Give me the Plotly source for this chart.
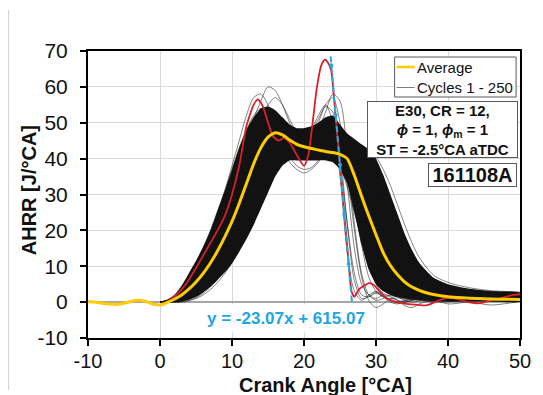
import plotly.graph_objects as go

# ---------------- data ----------------
# crank-angle grid used by the individual cycles and the dense band
cycle_ca = [0, 1, 2, 3, 4, 5, 6, 7, 8, 9, 10, 11, 12, 13, 14, 15, 16, 17, 18, 19,
            20, 21, 22, 23, 24, 25, 26, 27, 28, 29, 30, 31, 32, 33, 34, 35, 36,
            38, 40, 43, 46, 50]

# dense core of the 250 cycles (upper / lower edge)
band_hi = [0.2, 0.6, 1.8, 4.5, 8, 11.5, 15.5, 20, 25.5, 31, 37, 43, 48, 51.5, 54, 54.5,
           53.5, 51.5, 49.5, 48.5, 48.5, 49, 50, 51.5, 52, 49.5, 47, 45.5, 44, 42.5,
           40, 35.5, 30, 24.5, 19, 14.5, 11, 6.8, 5, 3.7, 3, 2.6]
band_lo = [0, 0, 0, 0.2, 0.6, 1.4, 2.7, 4.3, 6.2, 8.3, 10.8, 14, 17.5, 21.5, 26, 30.5, 35,
           38, 39.5, 39.5, 39.5, 39.5, 39.5, 39.5, 39, 37, 33, 25, 16, 9, 5, 3, 2,
           1.4, 1, 0.7, 0.5, 0.3, 0.2, 0.2, 0.2, 0.2]

# individual cycles spreading around the core
cyc_a = [0, 0.5, 1.5, 3.5, 6.5, 10, 14, 19, 25, 31, 38, 45, 52, 57, 58, 55, 51, 48, 46, 45,
         45, 46, 47, 48, 46, 38, 22, 8, 2, 1.5, 2.5, 1.5, 0.5, 0.2, 0.5, 0.8, 0.5, 0.2, 0.6, 0.3, 0.5, 0.8]
cyc_b = [0, 0, 0, 0.3, 1, 2, 3.5, 5.5, 8, 11, 14, 18, 22, 27, 31, 35, 38, 40, 41, 41,
         40.5, 40, 40, 40, 40.5, 41, 41, 40, 37, 33, 28, 22, 17, 12, 9, 7, 5.5, 4, 3.2, 2.6, 2.2, 2]
cyc_c = [0, 0.3, 1, 2.5, 4.5, 7.5, 11, 15, 20, 25, 31, 37, 42, 46, 48, 48, 46, 44, 42, 41,
         42, 45, 50, 55, 57, 50, 33, 15, 5, 2, 1, 2, 1.5, 0.5, 0, 0.5, 1, 0.5, 0.3, 0.8, 0.4, 0.6]
cyc_d = [0, 0.3, 1.2, 3, 5.5, 8.5, 12, 16.5, 21.5, 27, 33, 39, 45, 51, 56, 60, 59, 55, 50, 46,
         44, 43, 42.5, 42, 41, 38, 32, 25, 18, 12, 7, 4, 2.5, 1.5, 1, 1.2, 0.8, 0.5, 1, 0.6, 0.8, 1]
cyc_e = [0, 0.2, 0.8, 2, 4, 6.5, 9.5, 13, 17.5, 22, 27, 32, 37, 41, 44, 46, 46.5, 45.5, 44, 43,
         42.5, 42, 42, 42, 42, 42, 42, 41.5, 40.5, 38, 34, 29, 23, 17, 12, 8.5, 6.5, 4.5, 3.5, 2.8, 2.3, 2]
cyc_f = [0, 0, 0, 0, 0.4, 1, 2, 3.5, 5.5, 8, 11, 14.5, 18.5, 23, 27.5, 32, 36, 39, 41, 42,
         42, 41.5, 41, 41, 41.5, 42, 42.5, 42, 40.5, 37.5, 33.5, 28.5, 23.5, 18.5, 14, 10.5, 8, 5, 3.8, 3, 2.5, 2.2]
cyc_g = [0, 0.5, 1.8, 3.8, 6.5, 9.5, 13, 17, 22, 27, 33, 39, 45, 50, 53, 53, 51, 49, 47, 46,
         46, 48, 52, 55, 50, 35, 14, 3, 0.5, 2, 3, 1.5, 0, -0.5, 0.2, 1, 0.8, 0, 0.5, 1, 0.2, 0.5]
cyc_h = [0, 0.3, 1, 2.2, 4.2, 7, 10, 14, 18.5, 23.5, 29, 35, 40, 45, 49, 51, 50, 48, 45, 43,
         43.5, 45, 46, 45, 44, 43, 41, 36, 28, 19, 11, 6, 3.5, 2.5, 2, 1.5, 1.2, 1.3, 1, 0.8, 1, 1.2]
cyc_i = [0, 0.6, 2, 4.5, 7.5, 11, 15, 20, 25.5, 31, 37, 43, 48, 52, 54, 52, 48, 43, 39, 37,
         36, 37, 39, 42, 44, 43, 38, 28, 16, 7, 3, 1.5, 1, 1.2, 0.8, 0.5, 0.6, 0.8, 0.4, 0.5, 0.7, 0.5]
cyc_j = [0, 0.1, 0.5, 1.5, 3, 5, 7.5, 10.5, 14, 18, 22.5, 27.5, 32.5, 37.5, 42, 45.5, 47.5, 48, 47.5, 47,
         46.5, 46, 46, 46, 46.5, 46.5, 45.5, 43.5, 40, 35, 29, 22.5, 16.5, 11.5, 8, 5.5, 4, 2.8, 2.2, 1.8, 1.6, 1.5]
cyc_k = [0, 0.4, 1.4, 3.2, 5.8, 9, 12.5, 16.5, 21, 26, 31.5, 37, 42.5, 47, 50, 51, 50, 48, 46, 44.5,
         44, 45, 48, 53, 58, 56, 42, 22, 8, 2, 0.5, 1, 2, 1.5, 0.5, 0, 0.3, 0.6, 0.2, 0.4, 0.3, 0.6]
cyc_l = [0, 0, 0.2, 0.8, 2, 3.5, 5.5, 8, 11, 14.5, 18.5, 23, 27.5, 32, 36, 39.5, 42, 43.5, 44, 44,
         43.5, 43.5, 43.5, 44, 44.5, 45, 45, 44.5, 43, 40.5, 37, 32.5, 27, 21.5, 16.5, 12.5, 9.5, 6, 4.5, 3.5, 3, 2.6]
cyc_m = [0, 0.2, 0.9, 2.2, 4.2, 7, 10.5, 14.5, 19, 24, 29.5, 35, 40.5, 46, 51, 55, 57, 55, 51, 47,
         44, 42.5, 42, 43, 44, 43.5, 40, 32, 21, 11, 5, 2.5, 1.8, 1.5, 1.2, 0.9, 1, 1.2, 0.8, 1, 1.3, 1]
cyc_n = [0, 0.3, 1.2, 2.8, 5, 8, 11.5, 15.5, 20, 25, 30.5, 36, 41, 45, 47.5, 48, 47, 45.5, 44.5, 44.5,
         45.5, 47.5, 51, 54.5, 53, 42, 22, 6, 1, 1.5, 2.8, 2, 0.5, -0.3, 0, 0.6, 0.9, 0.2, 0.1, 0.6, 0.5, 0.3]
cyc_o = [0, 0.2, 0.7, 1.8, 3.6, 6, 9, 12.5, 16.5, 21, 26, 31.5, 37, 42, 46.5, 49.5, 50.5, 49.5, 47.5, 45.5,
         44.5, 44, 44.5, 46, 48, 47, 41, 30, 19, 11, 6.5, 4, 2.8, 2, 1.6, 1.4, 1.5, 1.2, 1.5, 1.1, 0.9, 1.3]
cyc_p = [0, 0.1, 0.4, 1.2, 2.5, 4.2, 6.5, 9.5, 13, 17, 21.5, 26.5, 31.5, 36.5, 41, 44.5, 46.5, 47, 46, 44.5,
         43, 42, 41.5, 41.5, 42, 42.5, 43, 42.5, 41.5, 39.5, 36, 31, 25.5, 20, 15, 11, 8.5, 5.5, 4.2, 3.2, 2.7, 2.4]
cyc_q = [0, 0, 0, 0.1, 0.5, 1.2, 2.5, 4.2, 6.5, 9.5, 13, 17, 21.5, 26, 30.5, 34.5, 38, 40.5, 42, 42.5,
         42.5, 42, 41.5, 41.5, 42, 42.5, 43, 43.5, 43.5, 42.5, 40.5, 37, 32.5, 27, 21.5, 16.5, 12.5, 7.5, 5.5, 4, 3.2, 2.8]
cyc_r = [0, 0.4, 1.5, 3.3, 6, 9.3, 13, 17.5, 22.5, 28, 34, 40, 45.5, 49.5, 51.5, 51, 48, 44, 40.5, 38,
         37, 37.5, 39.5, 43, 46, 45, 36, 20, 7, 0.5, -1.5, -0.5, 1, 0.5, -1, -1.5, -0.5, 0.5, -0.5, 0, -0.8, 0.2]
cycles = [cyc_a, cyc_b, cyc_c, cyc_d, cyc_e, cyc_f, cyc_g, cyc_h, cyc_i,
          cyc_j, cyc_k, cyc_l, cyc_m, cyc_n, cyc_o, cyc_p, cyc_q, cyc_r]

# ensemble average
avg_ca = [-10, -9, -8, -7, -6, -5, -4, -3, -2, -1, 0, 1, 2, 3, 4, 5, 6, 7, 8, 9, 10,
          11, 12, 13, 14, 15, 16, 17, 18, 19, 20, 21, 22, 23, 24, 25, 26, 27, 28, 29, 30,
          31, 32, 33, 34, 35, 36, 37, 38, 40, 42, 44, 46, 48, 50]
avg_ahrr = [0.1, 0, -0.3, -0.5, -0.6, -0.3, 0.2, 0.5, 0.2, -0.5, -0.8, -0.1, 0.8, 2, 3.6, 5.6, 8, 10.9,
            14.3, 18.2, 22.5, 27.5, 33, 38.5, 43, 46, 47.2, 46.6, 45.2, 44, 43.3, 42.8, 42.4, 42,
            41.7, 41.2, 40, 35.3, 29.5, 24, 18.8, 13.8, 10.2, 7.6, 5.6, 4.2, 3.3, 2.6, 2.1, 1.5,
            1.2, 1.0, 0.85, 0.8, 0.75]

# single highlighted cycle
red_ca = [-10, -9, -8, -7, -6, -5, -4, -3, -2, -1, 0, 1, 2, 3, 4, 5, 6, 7, 8, 9, 10, 11, 12,
          13, 13.6, 14.3, 15, 15.7, 16.5, 17.2, 18, 19, 20, 20.6, 21.2, 21.8, 22.4, 22.9, 23.4,
          23.8, 24.2, 24.6, 25.0, 25.4, 25.8, 26.2, 26.6, 27.0, 27.6, 28.3, 29.0, 29.7, 30.5,
          31.5, 32.5, 34, 35.5, 37, 38.5, 40, 41.5, 43, 44.5, 46, 47.5, 49, 50]
red_ahrr = [0.1, 0, -0.3, -0.5, -0.6, -0.3, 0.2, 0.5, 0.2, -0.5, -0.8, 0, 1.5, 3.5, 6.2, 9.5,
            13, 16.5, 20, 24, 30, 38, 49, 55, 56.5, 54.5, 50, 46.2, 45, 45.8, 44.5, 41, 38,
            41, 50, 60, 66, 67.6, 66.5, 64.3, 56, 47, 38, 29, 20, 11, 3, 1.5, 3.5, 4.5, 5.3,
            4.8, 3, 1, 0.2, -0.4, -0.7, -0.9, 0.3, 1.2, 0.8, -0.1, -0.3, 0.5, 1.2, 2.0, 2.2]

# linear fit to the end of combustion
fit_slope = -23.07
fit_intercept = 615.07
fit_ahrr_ends = [68.5, 0.0]
fit_marker_ca = [23.8, 24.4, 25.0, 25.6, 26.2]

# axis ticks (plain hyphen for negative labels)
x_ticks = [-10, 0, 10, 20, 30, 40, 50]
y_ticks = [-10, 0, 10, 20, 30, 40, 50, 60, 70]

# ---------------- layout helpers ----------------
W, H = 543, 395
PL, PR, PT, PB = 88, 529, 51, 338  # plot area in pixels


def px_x(p):
    return (p - PL) / (PR - PL)


def px_y(p):
    return (PB - p) / (PB - PT)


FONT = "Liberation Sans, Arial, sans-serif"
INK = "#111111"

fig = go.Figure()

# dense core of the cycle ensemble
fig.add_trace(go.Scatter(
    x=cycle_ca + cycle_ca[::-1], y=band_hi + band_lo[::-1],
    fill="toself", fillcolor="rgba(0,0,0,0.93)", line=dict(width=0, shape="spline", smoothing=0.5),
    mode="lines", hoverinfo="skip", showlegend=False))

for cyc in cycles:
    fig.add_trace(go.Scatter(
        x=cycle_ca, y=cyc, mode="lines",
        line=dict(color="rgba(20,20,20,0.75)", width=0.7, shape="spline", smoothing=0.8),
        hoverinfo="skip", showlegend=False))

fig.add_trace(go.Scatter(
    x=red_ca, y=red_ahrr, mode="lines",
    line=dict(color="#d9202a", width=1.8, shape="spline", smoothing=0.6),
    showlegend=False))

fig.add_trace(go.Scatter(
    x=avg_ca, y=avg_ahrr, mode="lines",
    line=dict(color="#ffcc00", width=3, shape="spline", smoothing=0.6),
    showlegend=False))

fit_ca_ends = [(v - fit_intercept) / fit_slope for v in fit_ahrr_ends]
fig.add_trace(go.Scatter(
    x=fit_ca_ends, y=fit_ahrr_ends, mode="lines",
    line=dict(color="#27a9e1", width=2, dash="6px,4px"), showlegend=False))
fig.add_trace(go.Scatter(
    x=fit_marker_ca, y=[fit_slope * c + fit_intercept for c in fit_marker_ca],
    mode="markers", marker=dict(color="#27a9e1", size=4), showlegend=False))

shapes = []
annotations = []

# legend box
lx0, lx1, ly0, ly1 = 401, 525, 57, 97
shapes.append(dict(type="rect", xref="paper", yref="paper", layer="above",
                   x0=px_x(lx0), x1=px_x(lx1), y0=px_y(ly1), y1=px_y(ly0),
                   fillcolor="white", line=dict(color="#595959", width=1)))
for yy, col, wd, label in [(67, "#ffcc00", 2.5, "Average"),
                           (87.5, "#7f7f7f", 1, "Cycles 1 - 250")]:
    shapes.append(dict(type="line", xref="paper", yref="paper", layer="above",
                       x0=px_x(403), x1=px_x(421.5), y0=px_y(yy), y1=px_y(yy),
                       line=dict(color=col, width=wd)))
    annotations.append(dict(xref="paper", yref="paper", x=px_x(421.5), y=px_y(yy),
                            xanchor="left", yanchor="middle", showarrow=False,
                            text=label, font=dict(family=FONT, size=15, color=INK)))

# operating-condition box
annotations.append(dict(
    xref="paper", yref="paper", x=px_x((374 + 525) / 2), y=px_y((101 + 158) / 2),
    xanchor="center", yanchor="middle", showarrow=False,
    text="<b>E30, CR = 12,</b><br><b><i>ϕ</i> = 1, <i>ϕ</i><sub>m</sub> = 1</b><br><b>ST = -2.5°CA aTDC</b>",
    font=dict(family=FONT, size=15, color=INK),
    bgcolor="white", bordercolor="#595959", borderwidth=1, borderpad=0,
    width=149, height=55, align="center"))

# test identifier box
annotations.append(dict(
    xref="paper", yref="paper", x=px_x((436 + 525) / 2), y=px_y((163 + 187) / 2),
    xanchor="center", yanchor="middle", showarrow=False,
    text="<b>161108A</b>", font=dict(family=FONT, size=20, color=INK),
    bgcolor="white", bordercolor="#595959", borderwidth=1, borderpad=0,
    width=87, height=22, align="center"))

# fit equation
annotations.append(dict(
    xref="paper", yref="paper", x=px_x(290), y=px_y(318),
    xanchor="center", yanchor="middle", showarrow=False,
    text=f"<b>y = {fit_slope:.2f}x + {fit_intercept:.2f}</b>",
    font=dict(family=FONT, size=17, color="#1ea6df"),
    bgcolor="white", borderpad=4))

# axis titles
annotations.append(dict(
    xref="paper", yref="paper", x=px_x(330), y=px_y(385),
    xanchor="center", yanchor="middle", showarrow=False,
    text="<b>Crank Angle [°CA]</b>", font=dict(family=FONT, size=20, color=INK)))
annotations.append(dict(
    xref="paper", yref="paper", x=px_x(28), y=px_y(190),
    xanchor="center", yanchor="middle", showarrow=False, textangle=-90,
    text="<b>AHRR [J/°CA]</b>", font=dict(family=FONT, size=20, color=INK)))

# thin page rule on the left
shapes.append(dict(type="line", xref="paper", yref="paper", layer="above",
                   x0=px_x(7), x1=px_x(7), y0=px_y(390), y1=px_y(10),
                   line=dict(color="#cfcfcf", width=1)))

axis_common = dict(
    showline=True, linecolor="black", linewidth=2, mirror=True,
    ticks="outside", ticklen=6, tickwidth=2, tickcolor="black",
    showgrid=True, gridcolor="#d9d9d9", gridwidth=1,
)

fig.update_layout(
    width=W, height=H,
    margin=dict(l=PL, r=W - PR, t=PT, b=H - PB),
    paper_bgcolor="white", plot_bgcolor="white",
    showlegend=False,
    xaxis=dict(range=[-10, 50], tickvals=x_ticks, ticktext=[str(v) for v in x_ticks],
               zeroline=False, ticklabelstandoff=-2,
               tickfont=dict(family=FONT, size=20, color=INK), **axis_common),
    yaxis=dict(range=[-10, 70], tickvals=y_ticks, ticktext=[str(v) for v in y_ticks],
               zeroline=True, zerolinecolor="#a6a6a6", zerolinewidth=2,
               ticklabelstandoff=8,
               tickfont=dict(family=FONT, size=21, color=INK), **axis_common),
    shapes=shapes, annotations=annotations,
)

fig.write_html("out.html")
